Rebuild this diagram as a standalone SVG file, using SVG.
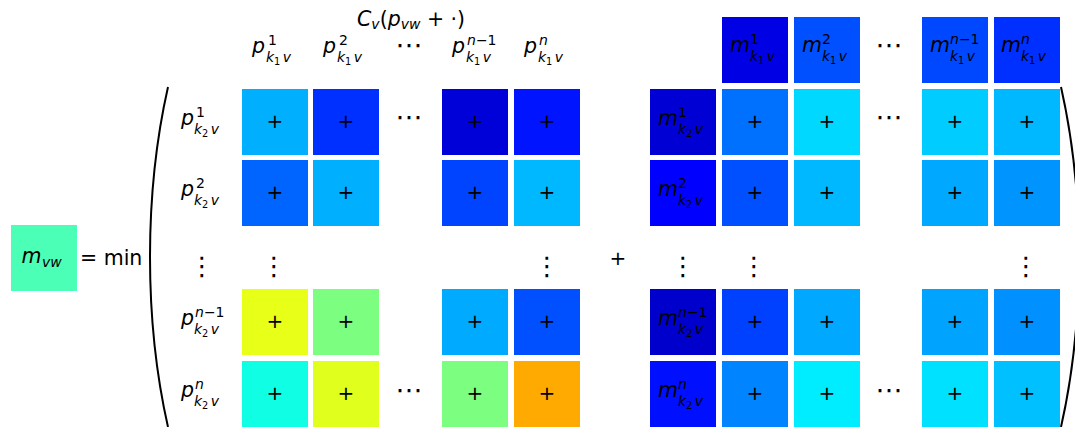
<svg xmlns="http://www.w3.org/2000/svg" width="1075" height="427" viewBox="0 0 1075 427">
<style>
text{font-family:"DejaVu Sans","Liberation Sans",sans-serif;fill:#000}
.t{font-size:20.5px}
.s{font-size:14px}
.ss{font-size:9.8px;font-style:normal}
.i{font-style:italic}
.n{font-style:normal}
.pl{font-size:20px;text-anchor:middle}
.vd{font-size:26px;text-anchor:middle}
.hd{font-size:27px;text-anchor:middle}
.br{fill:none;stroke:#000;stroke-width:2}
</style>
<rect width="1075" height="427" fill="#fff"/>

<g id="result">
<rect x="11" y="225" width="66" height="66" fill="#4cffb6"/>
<text class="t"><tspan class="i" x="21.5" y="263">m</tspan><tspan class="s i" x="42" y="267">vw</tspan></text>
</g>
<g id="eqmin"><text class="t" x="80" y="265">= min</text></g>

<g id="brackets">
<path class="br" d="M168,87 C156,140 150,200 150,257 C150,314 156,374 168,427"/>
<path class="br" d="M1061,87 C1073,140 1079,200 1079,257 C1079,314 1073,374 1061,427"/>
</g>

<g id="header">
<text class="t" x="357" y="26"><tspan class="i">C</tspan><tspan class="s i" dy="3">v</tspan><tspan dy="-3">(</tspan><tspan class="i">p</tspan><tspan class="s i" dy="3">vw</tspan><tspan dy="-3"> + ·)</tspan></text>
</g>

<g id="col-labels">
<text class="t"><tspan class="i" x="252" y="53">p</tspan><tspan class="s" x="268" y="45">1</tspan><tspan class="s i" x="266" y="62">k</tspan><tspan class="ss" dy="2.5">1</tspan><tspan class="s i" dx="2.5" dy="-2.5">v</tspan></text>
<text class="t"><tspan class="i" x="323" y="53">p</tspan><tspan class="s" x="339" y="45">2</tspan><tspan class="s i" x="337" y="62">k</tspan><tspan class="ss" dy="2.5">1</tspan><tspan class="s i" dx="2.5" dy="-2.5">v</tspan></text>
<text class="t"><tspan class="i" x="452" y="53">p</tspan><tspan class="s i" x="467" y="45">n</tspan><tspan class="s">−1</tspan><tspan class="s i" x="466" y="62">k</tspan><tspan class="ss" dy="2.5">1</tspan><tspan class="s i" dx="2.5" dy="-2.5">v</tspan></text>
<text class="t"><tspan class="i" x="524" y="53">p</tspan><tspan class="s i" x="539" y="45">n</tspan><tspan class="s i" x="538" y="62">k</tspan><tspan class="ss" dy="2.5">1</tspan><tspan class="s i" dx="2.5" dy="-2.5">v</tspan></text>
<text class="hd" x="409" y="54">⋯</text>
</g>

<g id="row-labels">
<text class="t"><tspan class="i" x="181" y="125">p</tspan><tspan class="s" x="196" y="117">1</tspan><tspan class="s i" x="194" y="134">k</tspan><tspan class="ss" dy="2.5">2</tspan><tspan class="s i" dx="2.5" dy="-2.5">v</tspan></text>
<text class="t"><tspan class="i" x="181" y="196">p</tspan><tspan class="s" x="196" y="188">2</tspan><tspan class="s i" x="194" y="205">k</tspan><tspan class="ss" dy="2.5">2</tspan><tspan class="s i" dx="2.5" dy="-2.5">v</tspan></text>
<text class="t"><tspan class="i" x="181" y="325">p</tspan><tspan class="s i" x="195" y="317">n</tspan><tspan class="s">−1</tspan><tspan class="s i" x="194" y="334">k</tspan><tspan class="ss" dy="2.5">2</tspan><tspan class="s i" dx="2.5" dy="-2.5">v</tspan></text>
<text class="t"><tspan class="i" x="181" y="397">p</tspan><tspan class="s i" x="195" y="389">n</tspan><tspan class="s i" x="194" y="406">k</tspan><tspan class="ss" dy="2.5">2</tspan><tspan class="s i" dx="2.5" dy="-2.5">v</tspan></text>
</g>

<g id="left-matrix">
<rect x="242" y="89" width="66" height="66" fill="#00b0ff"/>
<rect x="313" y="89" width="66" height="66" fill="#0030ff"/>
<rect x="442" y="89" width="66" height="66" fill="#0000d8"/>
<rect x="514" y="89" width="66" height="66" fill="#0014ff"/>
<rect x="242" y="160" width="66" height="66" fill="#0064ff"/>
<rect x="313" y="160" width="66" height="66" fill="#00b0ff"/>
<rect x="442" y="160" width="66" height="66" fill="#0044ff"/>
<rect x="514" y="160" width="66" height="66" fill="#00b8ff"/>
<rect x="242" y="289" width="66" height="66" fill="#e8ff18"/>
<rect x="313" y="289" width="66" height="66" fill="#7cff80"/>
<rect x="442" y="289" width="66" height="66" fill="#00aaff"/>
<rect x="514" y="289" width="66" height="66" fill="#0050ff"/>
<rect x="242" y="361" width="66" height="66" fill="#10ffe4"/>
<rect x="313" y="361" width="66" height="66" fill="#e0ff1c"/>
<rect x="442" y="361" width="66" height="66" fill="#7cff80"/>
<rect x="514" y="361" width="66" height="66" fill="#ffaa00"/>
<text class="pl" x="275" y="128">+</text><text class="pl" x="346" y="128">+</text><text class="pl" x="475" y="128">+</text><text class="pl" x="547" y="128">+</text>
<text class="pl" x="275" y="199">+</text><text class="pl" x="346" y="199">+</text><text class="pl" x="475" y="199">+</text><text class="pl" x="547" y="199">+</text>
<text class="pl" x="275" y="328">+</text><text class="pl" x="346" y="328">+</text><text class="pl" x="475" y="328">+</text><text class="pl" x="547" y="328">+</text>
<text class="pl" x="275" y="400">+</text><text class="pl" x="346" y="400">+</text><text class="pl" x="475" y="400">+</text><text class="pl" x="547" y="400">+</text>
<text class="hd" x="409" y="126">⋯</text>
<text class="hd" x="409" y="399">⋯</text>
</g>

<g id="vdots">
<text class="vd" x="202" y="274.5">⋮</text>
<text class="vd" x="274" y="274.5">⋮</text>
<text class="vd" x="547" y="274.5">⋮</text>
<text class="vd" x="683" y="274.5">⋮</text>
<text class="vd" x="754" y="274.5">⋮</text>
<text class="vd" x="1026" y="274.5">⋮</text>
</g>

<g id="plus-op"><text class="pl" x="618" y="265">+</text></g>

<g id="m-header">
<rect x="722" y="17" width="66" height="66" fill="#0000e4"/>
<rect x="794" y="17" width="66" height="66" fill="#0050ff"/>
<rect x="922" y="17" width="66" height="66" fill="#0048ff"/>
<rect x="994" y="17" width="66" height="66" fill="#0030ff"/>
<text class="t"><tspan class="i" x="730" y="52">m</tspan><tspan class="s" x="750" y="44">1</tspan><tspan class="s i" x="750" y="61">k</tspan><tspan class="ss" dy="2.5">1</tspan><tspan class="s i" dx="2.5" dy="-2.5">v</tspan></text>
<text class="t"><tspan class="i" x="802" y="52">m</tspan><tspan class="s" x="822" y="44">2</tspan><tspan class="s i" x="822" y="61">k</tspan><tspan class="ss" dy="2.5">1</tspan><tspan class="s i" dx="2.5" dy="-2.5">v</tspan></text>
<text class="t"><tspan class="i" x="930" y="52">m</tspan><tspan class="s i" x="950" y="44">n</tspan><tspan class="s">−1</tspan><tspan class="s i" x="950" y="61">k</tspan><tspan class="ss" dy="2.5">1</tspan><tspan class="s i" dx="2.5" dy="-2.5">v</tspan></text>
<text class="t"><tspan class="i" x="1001" y="52">m</tspan><tspan class="s i" x="1021" y="44">n</tspan><tspan class="s i" x="1021" y="61">k</tspan><tspan class="ss" dy="2.5">1</tspan><tspan class="s i" dx="2.5" dy="-2.5">v</tspan></text>
<text class="hd" x="889" y="54">⋯</text>
</g>

<g id="right-matrix">
<rect x="650" y="89" width="66" height="66" fill="#0000d4"/>
<rect x="722" y="89" width="66" height="66" fill="#0070ff"/>
<rect x="794" y="89" width="66" height="66" fill="#00d8ff"/>
<rect x="922" y="89" width="66" height="66" fill="#00ccff"/>
<rect x="994" y="89" width="66" height="66" fill="#00b8ff"/>
<rect x="650" y="160" width="66" height="66" fill="#0000ff"/>
<rect x="722" y="160" width="66" height="66" fill="#0050ff"/>
<rect x="794" y="160" width="66" height="66" fill="#00b8ff"/>
<rect x="922" y="160" width="66" height="66" fill="#00a8ff"/>
<rect x="994" y="160" width="66" height="66" fill="#0094ff"/>
<rect x="650" y="289" width="66" height="66" fill="#0000cc"/>
<rect x="722" y="289" width="66" height="66" fill="#0040ff"/>
<rect x="794" y="289" width="66" height="66" fill="#00a8ff"/>
<rect x="922" y="289" width="66" height="66" fill="#00a4ff"/>
<rect x="994" y="289" width="66" height="66" fill="#0090ff"/>
<rect x="650" y="361" width="66" height="66" fill="#0010ff"/>
<rect x="722" y="361" width="66" height="66" fill="#0084ff"/>
<rect x="794" y="361" width="66" height="66" fill="#00ecff"/>
<rect x="922" y="361" width="66" height="66" fill="#00e0ff"/>
<rect x="994" y="361" width="66" height="66" fill="#00c0ff"/>
<text class="t"><tspan class="i" x="658" y="125">m</tspan><tspan class="s" x="678" y="117">1</tspan><tspan class="s i" x="678" y="134">k</tspan><tspan class="ss" dy="2.5">2</tspan><tspan class="s i" dx="2.5" dy="-2.5">v</tspan></text>
<text class="t"><tspan class="i" x="658" y="196">m</tspan><tspan class="s" x="678" y="188">2</tspan><tspan class="s i" x="678" y="205">k</tspan><tspan class="ss" dy="2.5">2</tspan><tspan class="s i" dx="2.5" dy="-2.5">v</tspan></text>
<text class="t"><tspan class="i" x="658" y="325">m</tspan><tspan class="s i" x="678" y="317">n</tspan><tspan class="s">−1</tspan><tspan class="s i" x="678" y="334">k</tspan><tspan class="ss" dy="2.5">2</tspan><tspan class="s i" dx="2.5" dy="-2.5">v</tspan></text>
<text class="t"><tspan class="i" x="658" y="397">m</tspan><tspan class="s i" x="678" y="389">n</tspan><tspan class="s i" x="678" y="406">k</tspan><tspan class="ss" dy="2.5">2</tspan><tspan class="s i" dx="2.5" dy="-2.5">v</tspan></text>
<text class="pl" x="755" y="128">+</text><text class="pl" x="827" y="128">+</text><text class="pl" x="955" y="128">+</text><text class="pl" x="1027" y="128">+</text>
<text class="pl" x="755" y="199">+</text><text class="pl" x="827" y="199">+</text><text class="pl" x="955" y="199">+</text><text class="pl" x="1027" y="199">+</text>
<text class="pl" x="755" y="328">+</text><text class="pl" x="827" y="328">+</text><text class="pl" x="955" y="328">+</text><text class="pl" x="1027" y="328">+</text>
<text class="pl" x="755" y="400">+</text><text class="pl" x="827" y="400">+</text><text class="pl" x="955" y="400">+</text><text class="pl" x="1027" y="400">+</text>
<text class="hd" x="889" y="126">⋯</text>
<text class="hd" x="889" y="399">⋯</text>
</g>
</svg>
